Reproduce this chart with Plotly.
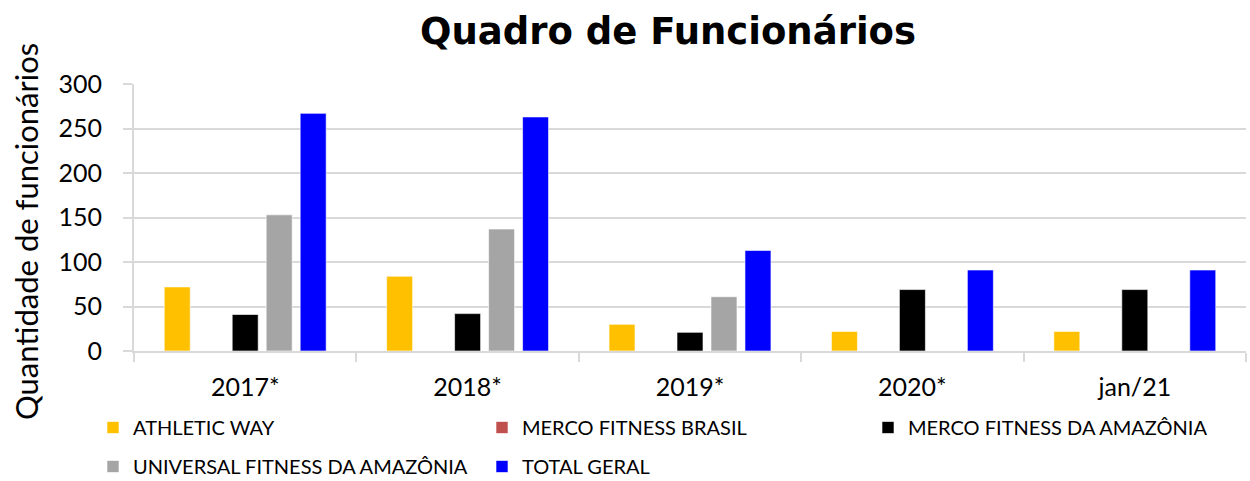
import plotly.graph_objects as go

categories = ["2017*", "2018*", "2019*", "2020*", "jan/21"]
athletic_way = [72, 84, 30, 22, 22]
merco_brasil = [0, 0, 0, 0, 0]
merco_amazonia = [41, 42, 21, 69, 69]
universal_amazonia = [153, 137, 61, 0, 0]
total_geral = [267, 263, 113, 91, 91]

series = [
    ("ATHLETIC WAY", athletic_way, "#FFC000", "legend"),
    ("MERCO FITNESS BRASIL", merco_brasil, "#C0504D", "legend2"),
    ("MERCO FITNESS DA AMAZÔNIA", merco_amazonia, "#000000", "legend3"),
    ("UNIVERSAL FITNESS DA AMAZÔNIA", universal_amazonia, "#A5A5A5", "legend"),
    ("TOTAL GERAL", total_geral, "#0000FF", "legend2"),
]

FONT = "Lato"
W, H = 1250, 481
L, R, T, B = 134, 4, 84, 130
PW, PH = W - L - R, H - T - B

def px_x(px):
    return (px - L) / PW

def px_y(py):
    return (H - B - py) / PH

fig = go.Figure()
for name, vals, color, lg in series:
    fig.add_trace(go.Bar(
        x=categories, y=vals, name=name, legend=lg, legendgroup=name,
        marker=dict(color=color, line=dict(color="rgba(255,255,255,0.6)", width=1)),
    ))

leg_common = dict(orientation="v", yanchor="top", y=px_y(408), xanchor="left",
                  font=dict(size=20, family=FONT), tracegroupgap=10,
                  itemwidth=30, bgcolor="rgba(0,0,0,0)")

fig.update_layout(
    width=W, height=H,
    paper_bgcolor="white", plot_bgcolor="white",
    margin=dict(l=L, r=R, t=T, b=B, autoexpand=False),
    font=dict(family=FONT, color="#000000"),
    title=dict(text="<b>Quadro de Funcionários</b>", x=668 / W, xanchor="center",
               y=1 - 31 / H, yanchor="middle",
               font=dict(size=37, family="DejaVu Sans", color="#000")),
    barmode="group", bargap=0.236, bargroupgap=0.235,
    showlegend=True,
    legend=dict(x=px_x(93), **leg_common),
    legend2=dict(x=px_x(482), **leg_common),
    legend3=dict(x=px_x(868), **leg_common),
    annotations=[dict(
        text="Quantidade de funcionários", textangle=-90, showarrow=False,
        xref="paper", yref="paper", x=px_x(26), y=px_y(232),
        xanchor="center", yanchor="middle",
        font=dict(size=31, family=FONT, color="#000"),
    )],
)
fig.update_xaxes(
    type="category", showline=True, linecolor="#D9D9D9", linewidth=2,
    ticks="outside", tickson="boundaries", ticklen=9, tickcolor="#D9D9D9", tickwidth=2,
    tickfont=dict(size=25, family=FONT), showgrid=False, automargin=False,
    ticklabelstandoff=13,
)
fig.update_yaxes(
    range=[0, 300], dtick=50, showgrid=True, gridcolor="#D9D9D9", gridwidth=2,
    showline=True, linecolor="#D9D9D9", linewidth=2, zeroline=False,
    ticks="outside", ticklen=9, tickcolor="#D9D9D9", tickwidth=2,
    tickfont=dict(size=25, family=FONT), automargin=False, ticklabelstandoff=16,
)

fig.write_html("out.html", config={"displayModeBar": False},
               post_script="document.body.style.margin='0';")
